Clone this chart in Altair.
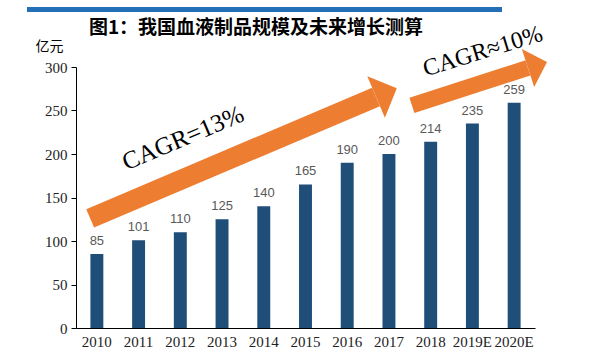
import altair as alt
import pandas as pd

# ---- data ----
years = ["2010", "2011", "2012", "2013", "2014", "2015", "2016", "2017", "2018", "2019E", "2020E"]
values = [85, 101, 110, 125, 140, 165, 190, 200, 214, 235, 259]

# annotation arrows, in data units (x = position along the 11 year slots, y = 亿元)
arrow1_x = [0.34, 7.19]
arrow1_y = [126, 265.5]
arrow1_head = [7.44, 270.6]
arrow2_x = [8.05, 10.83]
arrow2_y = [256, 299]
arrow2_head = [11.06, 302.3]

cagr_text = ["CAGR=13%", "CAGR\u224810%"]
cagr_x = [2.64, 9.80]
cagr_y = [210, 310]

title_text = "图1：我国血液制品规模及未来增长测算"

df = pd.DataFrame({"year": years, "value": values})
a1 = pd.DataFrame({"x": arrow1_x, "y": arrow1_y})
a2 = pd.DataFrame({"x": arrow2_x, "y": arrow2_y})
h1 = pd.DataFrame({"x": [arrow1_head[0]], "y": [arrow1_head[1]]})
h2 = pd.DataFrame({"x": [arrow2_head[0]], "y": [arrow2_head[1]]})
t1 = pd.DataFrame({"x": [cagr_x[0]], "y": [cagr_y[0]], "t": [cagr_text[0]]})
t2 = pd.DataFrame({"x": [cagr_x[1]], "y": [cagr_y[1]], "t": [cagr_text[1]]})
tt = pd.DataFrame({"t": [title_text]})

BLUE = "#1f4e79"
ORANGE = "#ed7d31"
W, H = 459, 261

yscale = alt.Scale(domain=[0, 300])
xband = alt.Scale(paddingInner=0.69, paddingOuter=0.345)
xq = alt.Scale(domain=[0, 11])

yenc = alt.Y("value:Q", scale=yscale,
             axis=alt.Axis(values=[0, 50, 100, 150, 200, 250, 300], grid=False,
                           domainColor="black", tickColor="black", tickSize=5,
                           labelPadding=4, title="亿元", titleAngle=0,
                           titleX=-27, titleY=-21, titleAlign="center",
                           titleBaseline="middle", titleFont="Noto Sans CJK SC",
                           titleFontSize=14, titleFontWeight="normal", titleColor="black"))

bars = alt.Chart(df).mark_bar(color=BLUE).encode(
    x=alt.X("year:N", sort=years, scale=xband,
            axis=alt.Axis(title=None, ticks=False, labelAngle=0, domainColor="black",
                          labelPadding=6)),
    y=yenc,
)

vals = alt.Chart(df).mark_text(dy=-9, baseline="alphabetic", font="Liberation Sans",
                               fontSize=13, color="#595959").encode(
    x=alt.X("year:N", sort=years, scale=xband, axis=None),
    y=alt.Y("value:Q", scale=yscale),
    text="value:Q",
)

def shaft(d, w):
    return alt.Chart(d).mark_line(color=ORANGE, strokeWidth=w, strokeCap="butt").encode(
        x=alt.X("x:Q", scale=xq, axis=None),
        y=alt.Y("y:Q", scale=yscale),
    )

HEAD = "M-1,0.5L0,-0.5L1,0.5Z"

def head(d, size, ang):
    return alt.Chart(d).mark_point(shape=HEAD, filled=True, opacity=1, color=ORANGE,
                                   size=size, angle=ang, strokeWidth=0).encode(
        x=alt.X("x:Q", scale=xq, axis=None),
        y=alt.Y("y:Q", scale=yscale),
    )

def label(d, ang, fs):
    return alt.Chart(d).mark_text(font="Liberation Serif", fontSize=fs, angle=ang,
                                  align="center", baseline="alphabetic", color="black").encode(
        x=alt.X("x:Q", scale=xq, axis=None),
        y=alt.Y("y:Q", scale=yscale),
        text="t:N",
    )

topline = alt.Chart(df).mark_rule(color="#2470b8", strokeWidth=4).encode(
    x=alt.value(-49), x2=alt.value(426), y=alt.value(-57.5)
)

title = alt.Chart(tt).mark_text(font="Noto Sans CJK SC", fontSize=19, fontWeight="bold",
                                color="black", align="center", baseline="middle").encode(
    x=alt.value(180), y=alt.value(-39), text="t:N"
)

chart = alt.layer(
    topline, title, bars, vals,
    shaft(a1, 20), head(h1, 2025, 67),
    shaft(a2, 16), head(h2, 1600, 72),
    label(t1, 337, 25), label(t2, 343, 24),
).resolve_scale(x="independent").properties(
    width=W, height=H,
    autosize=alt.AutoSizeParams(type="none"),
    padding={"left": 76, "top": 67, "right": 75, "bottom": 24},
).configure_view(stroke=None).configure_axis(
    labelFont="Liberation Serif", labelFontSize=15, labelColor="#222222"
)

chart.save("out.html", embed_options={"renderer": "svg", "actions": False})
